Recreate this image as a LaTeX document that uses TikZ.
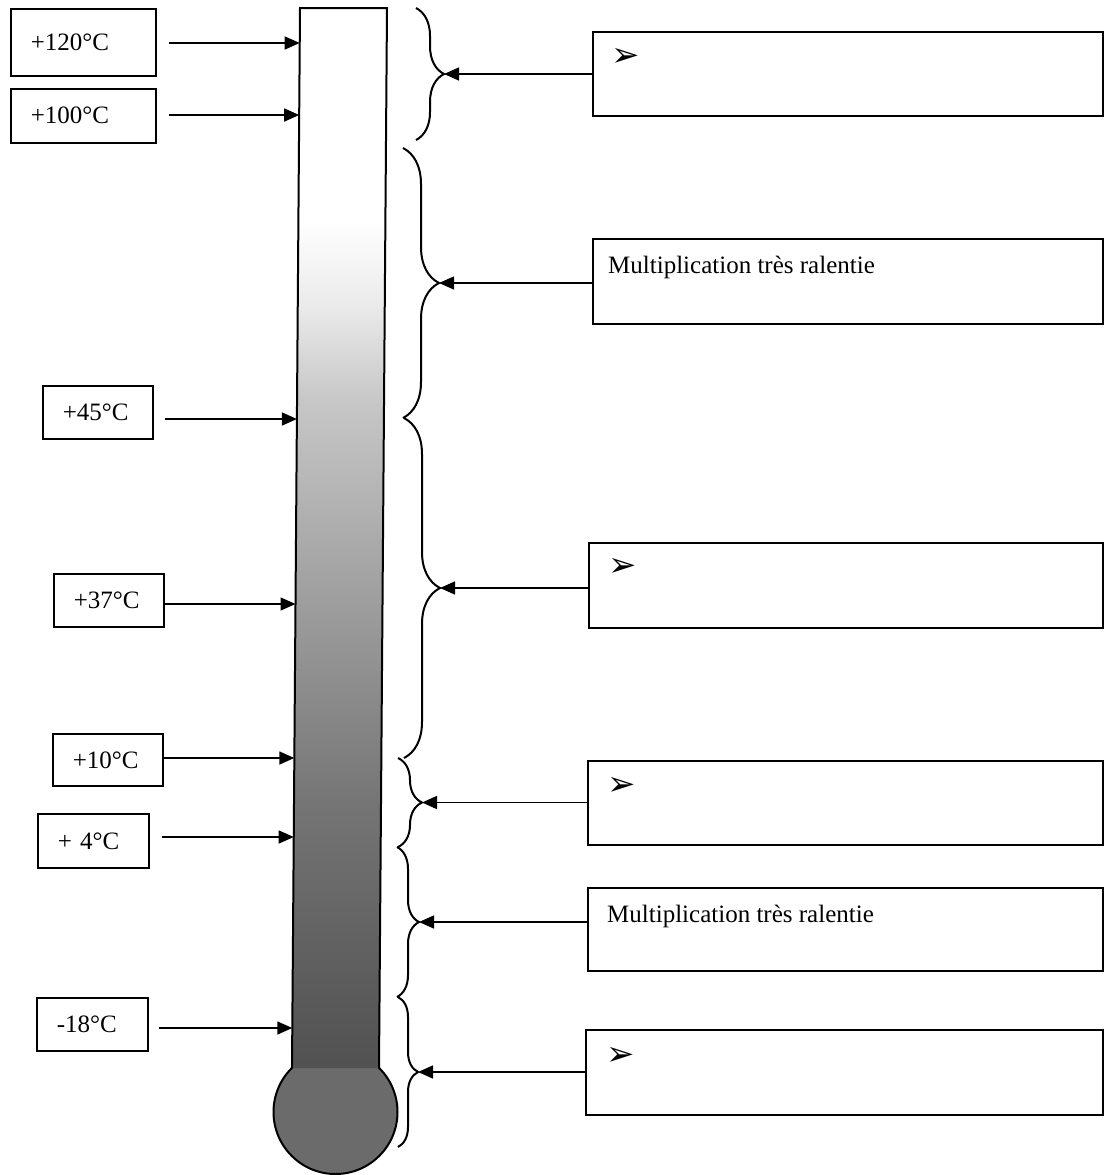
\documentclass[tikz,border=0pt]{standalone}
\usepackage{fontspec}
\setmainfont{Liberation Serif}
\newfontfamily\dingfont{DejaVu Sans}
\usetikzlibrary{arrows.meta,decorations.pathreplacing,calc}
\pgfdeclareverticalshading{thermo}{100bp}{color(0bp)=(black!68); color(25bp)=(black!68); color(28bp)=(black!65); color(37.6bp)=(black!54); color(47bp)=(black!38); color(56.5bp)=(black!22); color(61bp)=(black!8); color(65bp)=(white); color(75bp)=(white); color(100bp)=(white)}
\begin{document}
\begin{tikzpicture}[x=1pt,y=-1pt,
  lbl/.style={draw,line width=1.6pt,font=\fontsize{25}{30}\selectfont,inner ysep=0pt,inner xsep=20pt,align=left,anchor=north west},
  rbox/.style={draw,line width=1.7pt,anchor=north west,inner sep=0pt},
  arr/.style={line width=1.5pt,-{Triangle[length=15pt,width=13pt]}},
  brc/.style={decorate,line width=2pt,decoration={brace,amplitude=#1}},
  txt/.style={font=\fontsize{25}{30}\selectfont,anchor=base west,inner sep=0pt},
  bul/.style={font=\dingfont\fontsize{34}{40}\selectfont,anchor=west,inner sep=0pt}]
\useasboundingbox (0,0) rectangle (1107,1175);

% thermometer
\draw[line width=2pt,fill=black!58] (335.5,1112) circle[radius=62pt];
\shade[shading=thermo] (300,8) -- (387,8) -- (379,1068) -- (292,1068) -- cycle;
\draw[line width=2pt] (292,1068) -- (300,8) -- (387,8) -- (379,1068);

% points on the tube
\coordinate (a120) at (299.7,43);
\coordinate (a100) at (299.2,115);
\coordinate (a45) at (296.9,419);
\coordinate (a37) at (295.5,604);
\coordinate (a10) at (294.3,758);
\coordinate (a4) at (293.7,837);
\coordinate (a18) at (292.3,1028);

% left labels
\node[lbl,text width=105pt,minimum height=67pt] (l120) at (10,8) {+120°C};
\node[lbl,text width=105pt,minimum height=54pt] (l100) at (10,88) {+100°C};
\node[lbl,text width=70pt,minimum height=53pt] (l45) at (42,385) {+45°C};
\node[lbl,text width=70pt,minimum height=53pt] (l37) at (53,573) {+37°C};
\node[lbl,text width=70pt,minimum height=52pt] (l10) at (52,733) {+10°C};
\node[lbl,text width=71pt,minimum height=54pt] (l4) at (37,813) {+ 4°C};
\node[lbl,text width=71pt,minimum height=53pt] (l18) at (36,997) {-18°C};

\draw[arr,shorten <=12pt] (l120.east |- a120) -- (a120);
\draw[arr,shorten <=12pt] (l100.east |- a100) -- (a100);
\draw[arr,shorten <=11pt] (l45.east |- a45) -- (a45);
\draw[arr] (l37.east |- a37) -- (a37);
\draw[arr] (l10.east |- a10) -- (a10);
\draw[arr,shorten <=12pt] (l4.east |- a4) -- (a4);
\draw[arr,shorten <=10pt] (l18.east |- a18) -- (a18);

% braces
\draw[brc=28pt] (416,8) -- (416,140);
\draw[brc=36pt] (403,148) -- (403,418);
\draw[brc=36pt] (404,418) -- (404,758);
\draw[brc=24pt] (398,758) -- (398,847);
\draw[brc=22pt] (397,847) -- (397,997);
\draw[brc=20pt] (398,997) -- (398,1147);
\coordinate (t1) at (444,74);
\coordinate (t2) at (439,283);
\coordinate (t3) at (440,588);
\coordinate (t4) at (422,802.5);
\coordinate (t5) at (419,922);
\coordinate (t6) at (418,1072);

% right boxes
\node[rbox,minimum width=510pt,minimum height=84pt] (b1) at (592,31) {};
\node[rbox,minimum width=510pt,minimum height=85pt] (b2) at (592,238) {};
\node[rbox,minimum width=514pt,minimum height=85pt] (b3) at (588,542) {};
\node[rbox,minimum width=515pt,minimum height=84pt] (b4) at (587,760) {};
\node[rbox,minimum width=515pt,minimum height=83pt] (b5) at (587,887) {};
\node[rbox,minimum width=517pt,minimum height=85pt] (b6) at (585,1029) {};

\draw[arr] (b1.west |- t1) -- (t1);
\draw[arr] (b2.west |- t2) -- (t2);
\draw[arr] (b3.west |- t3) -- (t3);
\draw[arr] (b4.west |- t4) -- (t4);
\draw[arr] (b5.west |- t5) -- (t5);
\draw[arr] (b6.west |- t6) -- (t6);

\node[bul] (m1) at ($(b1.north west)+(19,26)$) {➢};
\node[txt] (m2) at ($(b2.north west)+(16,35)$) {Multiplication très ralentie};
\node[bul] (m3) at ($(b3.north west)+(20,25)$) {➢};
\node[bul] (m4) at ($(b4.north west)+(20,26)$) {➢};
\node[txt] (m5) at ($(b5.north west)+(20,35)$) {Multiplication très ralentie};
\node[bul] (m6) at ($(b6.north west)+(21,27)$) {➢};
\end{tikzpicture}
\end{document}
